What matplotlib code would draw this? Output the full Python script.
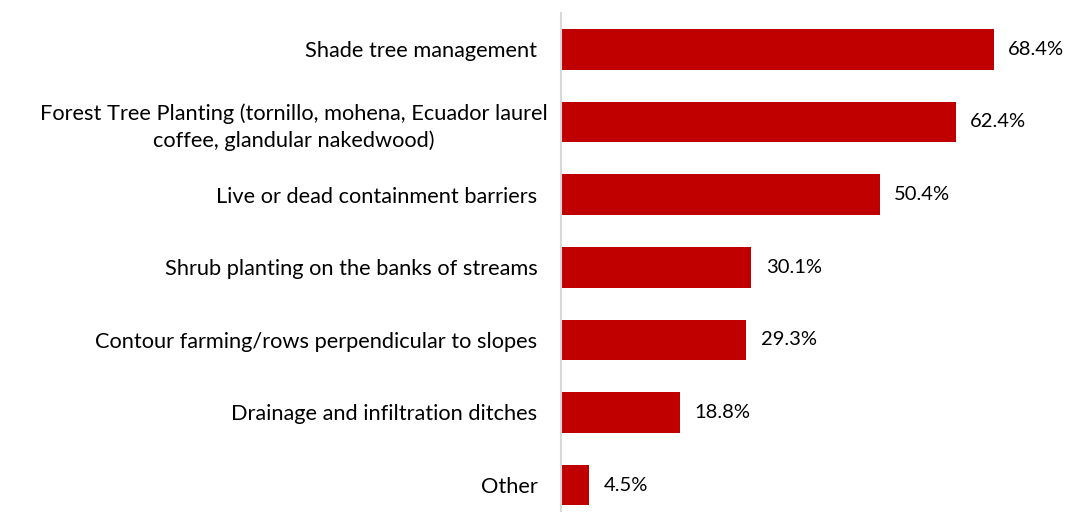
import matplotlib
matplotlib.use('Agg')
import matplotlib.pyplot as plt
import matplotlib.transforms as mtransforms

# practices adopted (% of farms)
practices = [
    'Shade tree management',
    'Forest Tree Planting (tornillo, mohena, Ecuador laurel\ncoffee, glandular nakedwood)',
    'Live or dead containment barriers',
    'Shrub planting on the banks of streams',
    'Contour farming/rows perpendicular to slopes',
    'Drainage and infiltration ditches',
    'Other',
]
shares = [68.4, 62.4, 50.4, 30.1, 29.3, 18.8, 4.5]

plt.rcParams['font.family'] = ['Lato', 'DejaVu Sans']

fig = plt.figure(figsize=(10.67, 5.12), dpi=100)
ax = fig.add_axes([561 / 1067, 0, 1 - 561 / 1067, 1 - 13 / 512])

pos = list(range(len(practices)))
ax.barh(pos, shares, height=0.56, color='#C00000')
for y, v in zip(pos, shares):
    ax.text(v + 2.3, y, f'{v:.1f}%', va='center', ha='left', fontsize=14.5, color='black')

ax.set_xlim(0, 80)
ax.set_ylim(6.37, -0.5)
ax.set_yticks(pos)
ax.set_yticklabels(practices, fontsize=15.7)
ax.tick_params(axis='y', length=0, pad=17)
ax.set_xticks([])

for lbl in ax.get_yticklabels():
    lbl.set_multialignment('center')
    lbl.set_linespacing(1.4)
# the wrapped label sits a little further right
wrapped = ax.get_yticklabels()[1]
wrapped.set_transform(wrapped.get_transform() +
                      mtransforms.ScaledTranslation(10 / 100, 0, fig.dpi_scale_trans))

for side in ['top', 'right', 'bottom']:
    ax.spines[side].set_visible(False)
ax.spines['left'].set_color('#D9D9D9')
ax.spines['left'].set_linewidth(1.5)

plt.savefig('out.png', dpi=100)
